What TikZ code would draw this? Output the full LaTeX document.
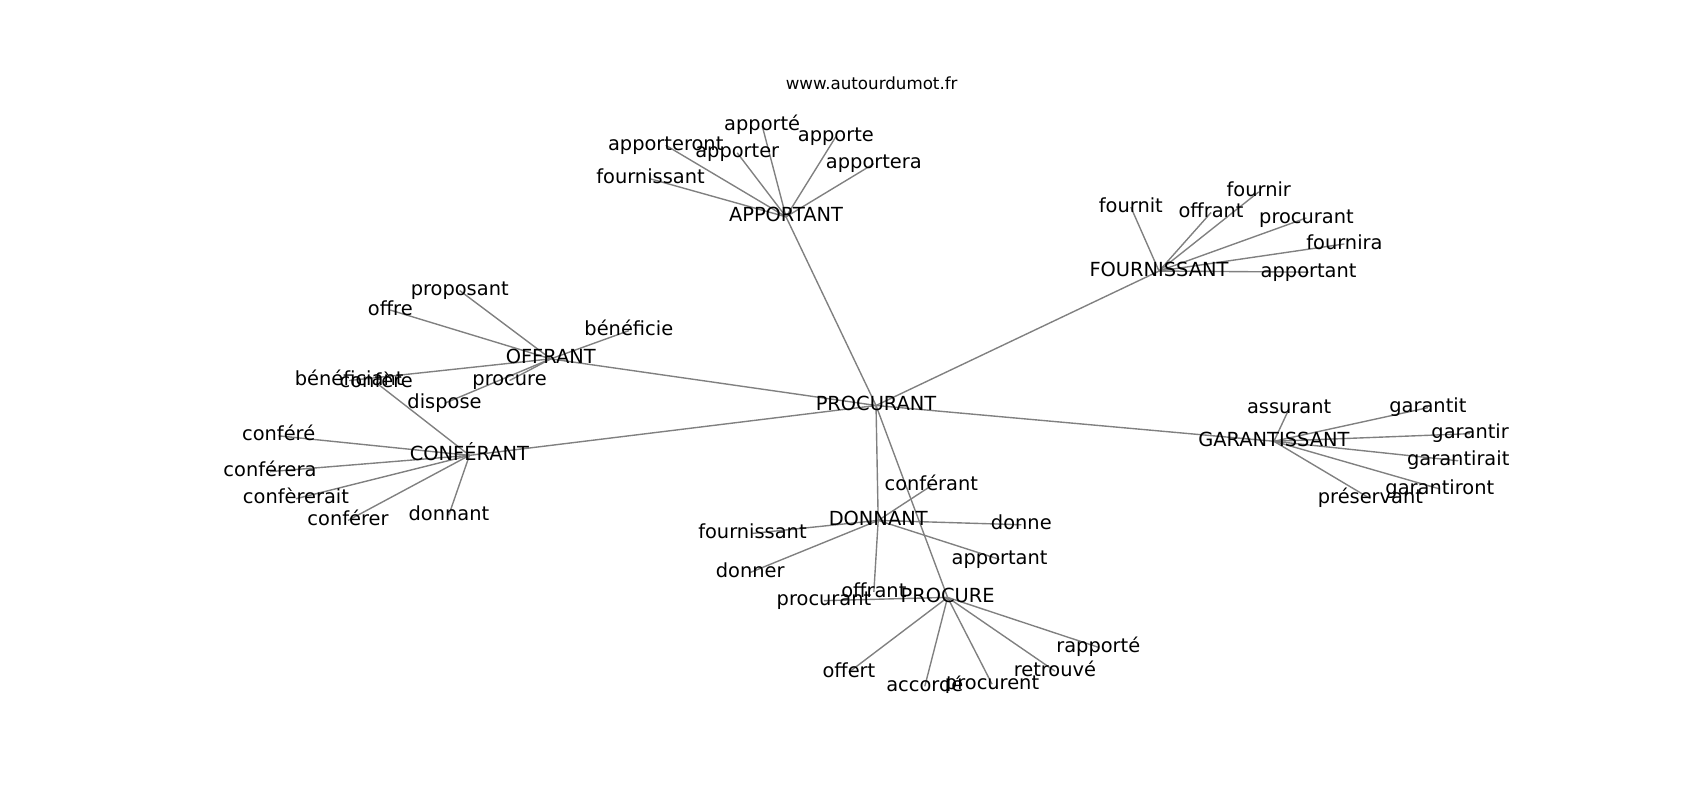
\documentclass[tikz,border=0pt]{standalone}
\usepackage{fontspec}
\setmainfont{DejaVu Sans}
\usetikzlibrary{backgrounds}
\begin{document}
\begin{tikzpicture}[x=0.5pt,y=-0.5pt,
        word/.style={inner sep=0pt,text height=6.8pt,text depth=2.1pt,yshift=-1pt,
            font=\fontsize{8.95}{10}\selectfont},
        link/.style={draw=gray,line width=0.64pt}]
\useasboundingbox (0,0) rectangle (1568,738);
\node[font=\fontsize{7.7}{9}\selectfont] (site) at (804,77) {www.autourdumot.fr};

% hubs
\node[word] (PROCURANT) at (808,372) {PROCURANT};
\node[word] (APPORTANT) at (725,198) {APPORTANT};
\node[word] (FOURNISSANT) at (1069,248) {FOURNISSANT};
\node[word] (OFFRANT) at (508,329) {OFFRANT};
\node[word] (CONFERANT) at (433,418) {CONFÉRANT};
\node[word] (DONNANT) at (810,478) {DONNANT};
\node[word] (PROCURE) at (874,549) {PROCURE};
\node[word] (GARANTISSANT) at (1175,405) {GARANTISSANT};

% around APPORTANT
\node[word] (apporte-pp) at (703,114) {apporté};
\node[word] (apporteront) at (614,132) {apporteront};
\node[word] (apporter) at (680,139) {apporter};
\node[word] (apporte) at (771,124) {apporte};
\node[word] (apportera) at (806,149) {apportera};
\node[word] (fournissant-a) at (600,163) {fournissant};

% around FOURNISSANT
\node[word] (fournit) at (1043,189) {fournit};
\node[word] (offrant-f) at (1117,194) {offrant};
\node[word] (fournir) at (1161,175) {fournir};
\node[word] (procurant-f) at (1205,199) {procurant};
\node[word] (fournira) at (1240,223) {fournira};
\node[word] (apportant-f) at (1207,249) {apportant};

% around OFFRANT
\node[word] (proposant) at (424,266) {proposant};
\node[word] (offre) at (360,284) {offre};
\node[word] (beneficie) at (580,303) {bénéficie};
\node[word] (beneficiant) at (322,349) {bénéficiant};
\node[word] (procure) at (470,349) {procure};
\node[word] (dispose) at (410,370) {dispose};

% around CONFERANT
\node[word] (confere-pp) at (257,400) {conféré};
\node[word] (conferera) at (249,433) {conférera};
\node[word] (confererait) at (273,458) {confèrerait};
\node[word] (conferer) at (321,478) {conférer};
\node[word] (donnant) at (414,473) {donnant};
\node[word] (confere) at (347,351) {confère};

% around DONNANT
\node[word] (conferant) at (859,446) {conférant};
\node[word] (donne) at (942,482) {donne};
\node[word] (fournissant-d) at (694,490) {fournissant};
\node[word] (donner) at (692,526) {donner};
\node[word] (apportant-d) at (922,514) {apportant};
\node[word] (offrant-d) at (806,544) {offrant};

% around PROCURE
\node[word] (offert) at (783,618) {offert};
\node[word] (accorde-pp) at (853,631) {accordé};
\node[word] (procurent) at (915,629) {procurent};
\node[word] (retrouve-pp) at (973,617) {retrouvé};
\node[word] (rapporte-pp) at (1013,595) {rapporté};
\node[word] (procurant-p) at (760,552) {procurant};

% around GARANTISSANT
\node[word] (assurant) at (1189,375) {assurant};
\node[word] (garantit) at (1317,374) {garantit};
\node[word] (garantir) at (1356,398) {garantir};
\node[word] (garantirait) at (1345,423) {garantirait};
\node[word] (garantiront) at (1328,449) {garantiront};
\node[word] (preservant) at (1264,458) {préservant};

\begin{pgfonlayer}{background}
\foreach \a/\b in {PROCURANT/APPORTANT, PROCURANT/FOURNISSANT, PROCURANT/OFFRANT,
        PROCURANT/CONFERANT, PROCURANT/DONNANT, PROCURANT/PROCURE,
        PROCURANT/GARANTISSANT,
        APPORTANT/apporte-pp, APPORTANT/apporteront, APPORTANT/apporter,
        APPORTANT/apporte, APPORTANT/apportera, APPORTANT/fournissant-a,
        FOURNISSANT/fournit, FOURNISSANT/offrant-f, FOURNISSANT/fournir,
        FOURNISSANT/procurant-f, FOURNISSANT/fournira, FOURNISSANT/apportant-f,
        OFFRANT/proposant, OFFRANT/offre, OFFRANT/beneficie,
        OFFRANT/beneficiant, OFFRANT/procure, OFFRANT/dispose,
        CONFERANT/confere-pp, CONFERANT/conferera, CONFERANT/confererait,
        CONFERANT/conferer, CONFERANT/donnant, CONFERANT/confere,
        DONNANT/conferant, DONNANT/donne, DONNANT/fournissant-d,
        DONNANT/donner, DONNANT/apportant-d, DONNANT/offrant-d,
        PROCURE/offert, PROCURE/accorde-pp, PROCURE/procurent,
        PROCURE/retrouve-pp, PROCURE/rapporte-pp, PROCURE/procurant-p,
        GARANTISSANT/assurant, GARANTISSANT/garantit, GARANTISSANT/garantir,
        GARANTISSANT/garantirait, GARANTISSANT/garantiront, GARANTISSANT/preservant}
    \draw[link] (\a.center) -- (\b.center);
\end{pgfonlayer}
\end{tikzpicture}
\end{document}
